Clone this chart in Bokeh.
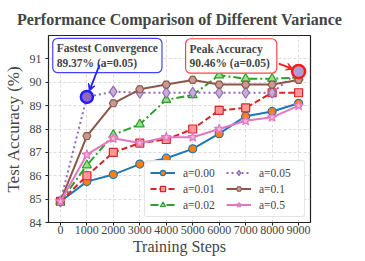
from bokeh.plotting import figure
from bokeh.models import Range1d, FixedTicker, Label, Arrow, VeeHead, Legend, LegendItem
from bokeh.embed import file_html
from bokeh.resources import INLINE

steps = [0, 1000, 2000, 3000, 4000, 5000, 6000, 7000, 8000, 9000]
a000 = [84.9, 85.75, 86.05, 86.5, 86.75, 87.15, 87.8, 88.55, 88.75, 89.1]
a001 = [84.9, 86.0, 87.0, 87.4, 87.55, 88.0, 88.8, 88.9, 89.55, 89.55]
a002 = [84.9, 86.45, 87.75, 88.2, 89.25, 89.45, 90.3, 90.15, 90.15, 90.2]
a005 = [84.9, 89.37, 89.6, 89.55, 89.55, 89.55, 89.55, 89.55, 89.55, 90.46]
a01 = [84.9, 87.7, 89.1, 89.7, 89.9, 90.1, 89.9, 89.9, 89.9, 90.1]
a05 = [84.9, 86.9, 87.6, 87.4, 87.65, 87.65, 88.0, 88.35, 88.5, 89.0]
y_ticks = [84, 85, 86, 87, 88, 89, 90, 91]
fastest = (1000, 89.37)
peak = (9000, 90.46)

FONT = "Liberation Serif"

p = figure(width=365, height=261, output_backend="svg", toolbar_location=None,
           x_range=Range1d(-450, 9450), y_range=Range1d(84, 92.0),
           min_border_left=46, min_border_right=55, min_border_top=33, min_border_bottom=39)

p.title.text = "Performance Comparison of Different Variance"
p.title.text_font = FONT
p.title.text_font_size = "16px"
p.title.text_font_style = "bold"
p.title.align = "center"
p.title.standoff = 16
p.title.offset = -3

p.outline_line_color = "#222222"
p.outline_line_width = 1.2
p.background_fill_color = "white"

for ax in (p.xaxis[0], p.yaxis[0]):
    ax.major_label_text_font = FONT
    ax.major_label_text_font_size = "12px"
    ax.axis_label_text_font = FONT
    ax.axis_label_text_font_style = "normal"
    ax.minor_tick_line_color = None
    ax.major_tick_in = 0
    ax.major_tick_out = 3
    ax.axis_line_color = None
    ax.major_tick_line_color = "#222222"
p.xaxis.axis_label = "Training Steps"
p.yaxis.axis_label = "Test Accuracy (%)"
p.xaxis.axis_label_text_font_size = "16px"
p.yaxis.axis_label_text_font_size = "17px"
p.xaxis.major_label_standoff = 0
p.xaxis.axis_label_standoff = 1
p.yaxis.major_label_standoff = 4
p.yaxis.axis_label_standoff = 4
p.xaxis.ticker = FixedTicker(ticks=steps)
p.yaxis.ticker = FixedTicker(ticks=y_ticks)

p.grid.grid_line_color = "#cccccc"
p.grid.grid_line_dash = "3 2"
p.grid.grid_line_alpha = 0.7

series = [
    ("a=0.00", a000, "#1f77b4", "#ff7f0e", "circle", "solid", 8),
    ("a=0.01", a001, "#d62728", "#ff9896", "square", "6 3", 8),
    ("a=0.02", a002, "#2ca02c", "#98df8a", "triangle", "8 3 2 3", 9),
    ("a=0.05", a005, "#9467bd", "#c5b0d5", "diamond", "2 3", 11),
    ("a=0.1", a01, "#8c564b", "#c49c94", "hex", "solid", 8),
    ("a=0.5", a05, "#e377c2", "#f7b6d2", "star", "solid", 10),
]

items = []
for label, ys, col, fill, marker, dash, size in series:
    r1 = p.line(steps, ys, line_color=col, line_width=2, line_dash=dash)
    r2 = p.scatter(steps, ys, marker=marker, size=size, line_color=col, fill_color=fill, line_width=1.2)
    items.append(LegendItem(label=label, renderers=[r1, r2]))

# highlight markers
p.scatter([fastest[0]], [fastest[1]], marker="circle", size=12, fill_color="#9467bd",
          line_color="#2020ff", line_width=2.5)
p.scatter([peak[0]], [peak[1]], marker="circle", size=13, fill_color="#b09ad8",
          line_color="#ff1a1a", line_width=2.5)

# annotation boxes
lab1 = Label(x=-290, y=91.88, text="Fastest Convergence\n 89.37% (a=0.05)",
             text_font=FONT, text_font_size="11.5px", text_font_style="bold",
             text_align="left", text_baseline="top",
             background_fill_color="white", border_line_color="#4444ff",
             border_line_width=1.2, padding=4, border_radius=5)
lab2 = Label(x=4730, y=91.86, text="Peak Accuracy\n 90.46% (a=0.05)",
             text_font=FONT, text_font_size="11.5px", text_font_style="bold",
             text_align="left", text_baseline="top",
             background_fill_color="white", border_line_color="#ff4444",
             border_line_width=1.2, padding=4, border_radius=5)
p.add_layout(lab1)
p.add_layout(lab2)

p.add_layout(Arrow(end=VeeHead(size=7, line_color="#2020ff", fill_color="#2020ff"),
                   x_start=1480, y_start=90.75, x_end=1090, y_end=89.62,
                   line_color="#2020ff", line_width=1.8))
p.add_layout(Arrow(end=VeeHead(size=7, line_color="#ff1a1a", fill_color="#ff1a1a"),
                   x_start=8250, y_start=90.8, x_end=8800, y_end=90.56,
                   line_color="#ff1a1a", line_width=1.8))

legend = Legend(items=items, location="bottom_right", ncols=2,
                label_text_font=FONT, label_text_font_size="11.5px",
                glyph_width=25, glyph_height=13, label_standoff=8, label_width=40,
                spacing=3, padding=5, margin=5,
                border_line_color="#cccccc", border_radius=3,
                background_fill_alpha=0.9)
p.add_layout(legend)

open("out.html", "w").write(file_html(p, INLINE))
